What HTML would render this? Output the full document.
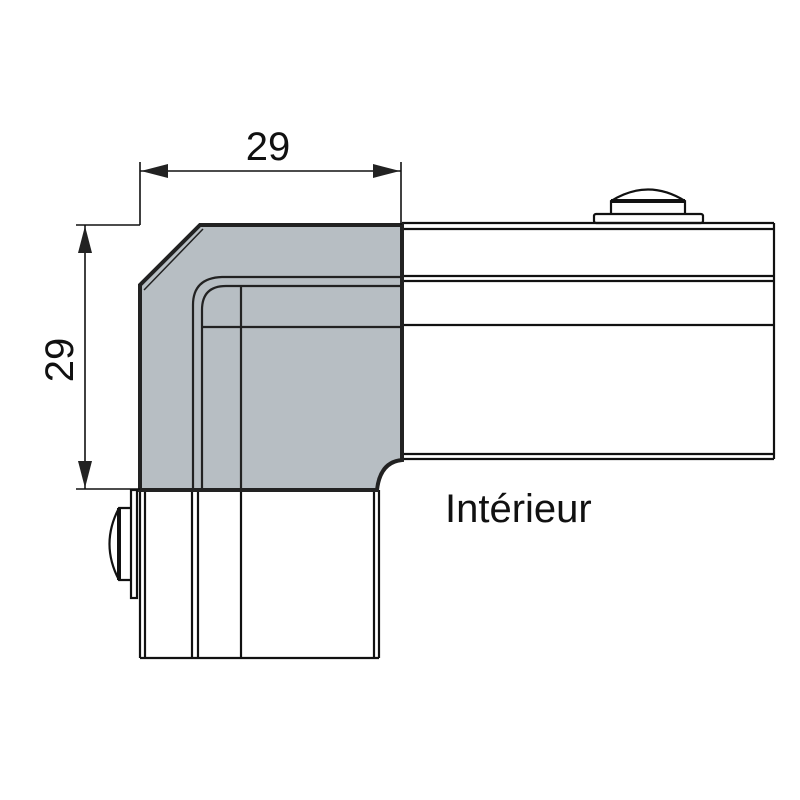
<!DOCTYPE html>
<html><head><meta charset="utf-8"><style>
html,body{margin:0;padding:0;background:#fff;}
svg{display:block;}
text{font-family:"Liberation Sans",sans-serif;fill:#111;}
</style></head><body>
<svg width="800" height="800" viewBox="0 0 800 800" xmlns="http://www.w3.org/2000/svg">
<g fill="none" stroke="#111" stroke-width="2.2">
<line x1="402" y1="223" x2="774" y2="223"/>
<line x1="402" y1="229" x2="774" y2="229"/>
<line x1="402" y1="276" x2="774" y2="276"/>
<line x1="402" y1="281" x2="774" y2="281"/>
<line x1="402" y1="325" x2="774" y2="325"/>
<line x1="402" y1="454" x2="774" y2="454"/>
<line x1="402" y1="459" x2="774" y2="459"/>
<line x1="774" y1="223" x2="774" y2="459"/>
<rect x="594" y="214" width="109" height="9" rx="2"/>
<path d="M611 214 L611 201 Q648 178 685 201 L685 214"/>
<line x1="611" y1="201" x2="685" y2="201" stroke-width="4"/>
<line x1="140" y1="490" x2="140" y2="658"/>
<line x1="145" y1="490" x2="145" y2="658"/>
<line x1="192" y1="490" x2="192" y2="658"/>
<line x1="198" y1="490" x2="198" y2="658"/>
<line x1="241" y1="490" x2="241" y2="658"/>
<line x1="374" y1="490" x2="374" y2="658"/>
<line x1="379" y1="490" x2="379" y2="658"/>
<line x1="140" y1="658" x2="379" y2="658"/>
<rect x="131" y="490" width="6" height="108"/>
<path d="M131 508 L119 508 Q100 544 119 580 L131 580"/>
<line x1="119" y1="508" x2="119" y2="580" stroke-width="4"/>
</g>
<path d="M200 225 L402 225 L402 460 Q380 462 377 490 L140 490 L140 285 Z" fill="#b7bec3" stroke="#222" stroke-width="4"/>
<g fill="none" stroke="#222" stroke-width="2.2">
<path d="M193 490 L193 305 Q193 278 222 277 L402 277"/>
<path d="M202 490 L202 310 Q202 286 226 286 L402 286"/>
<line x1="241" y1="286" x2="241" y2="490"/>
<line x1="202" y1="327" x2="402" y2="327"/>
<path d="M144 290 L203 229" stroke-width="1.5"/>
</g>
<g stroke="#111" stroke-width="1.6" fill="none">
<line x1="140" y1="162" x2="140" y2="225"/>
<line x1="401" y1="162" x2="401" y2="225"/>
<line x1="140" y1="171" x2="401" y2="171"/>
<line x1="76" y1="225" x2="140" y2="225"/>
<line x1="76" y1="489" x2="140" y2="489"/>
<line x1="85" y1="225" x2="85" y2="489"/>
</g>
<g fill="#222">
<polygon points="141,171 168,164 168,178"/>
<polygon points="400,171 373,164 373,178"/>
<polygon points="85,226 78,253 92,253"/>
<polygon points="85,488 78,461 92,461"/>
</g>
<text x="268" y="160" font-size="40" text-anchor="middle">29</text>
<text transform="translate(73,360) rotate(-90)" font-size="40" text-anchor="middle">29</text>
<text x="445" y="522" font-size="40">Intérieur</text>
</svg>
</body></html>
